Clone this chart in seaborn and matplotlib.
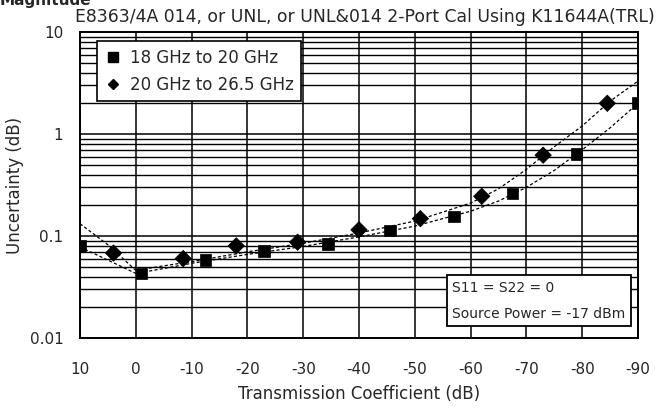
import numpy as np
import pandas as pd
import matplotlib
matplotlib.use('Agg')
import matplotlib.pyplot as plt
from matplotlib.lines import Line2D
from matplotlib.ticker import FixedLocator, NullFormatter, LogLocator
import seaborn as sns

# measured points (transmission coefficient dB -> uncertainty dB)
sq_x = [10, -1, -12.5, -23, -34.5, -45.5, -57, -67.5, -79, -90]
sq_y = [0.080, 0.043, 0.058, 0.071, 0.084, 0.113, 0.155, 0.26, 0.64, 2.0]
dm_x = [4, -8.5, -18, -29, -40, -51, -62, -73, -84.5]
dm_y = [0.068, 0.060, 0.080, 0.087, 0.115, 0.148, 0.245, 0.62, 2.0]

# dashed fit curves
fit_x = [10, 5, 0, -5, -10, -20, -30, -40, -50, -60, -65, -70, -75, -80, -85, -90]
fit_sq = [0.078, 0.058, 0.043, 0.048, 0.054, 0.066, 0.079, 0.098, 0.125, 0.175, 0.22, 0.30, 0.44, 0.70, 1.15, 2.0]
fit_dm = [0.132, 0.082, 0.046, 0.051, 0.056, 0.070, 0.085, 0.107, 0.140, 0.21, 0.29, 0.45, 0.75, 1.2, 2.1, 3.3]

labels = ['18 GHz to 20 GHz', '20 GHz to 26.5 GHz']
x_ticks = [10, 0, -10, -20, -30, -40, -50, -60, -70, -80, -90]
y_ticks = [0.01, 0.1, 1, 10]
y_ticklabels = ['0.01', '0.1', '1', '10']

pts = pd.concat([
    pd.DataFrame({'x': sq_x, 'y': sq_y, 'band': labels[0]}),
    pd.DataFrame({'x': dm_x, 'y': dm_y, 'band': labels[1]}),
])
fits = pd.concat([
    pd.DataFrame({'x': fit_x, 'y': fit_sq, 'band': labels[0]}),
    pd.DataFrame({'x': fit_x, 'y': fit_dm, 'band': labels[1]}),
])

sns.set_style('white')
plt.rcParams['font.family'] = ['DejaVu Sans']

fig = plt.figure(figsize=(6.58, 4.08), dpi=100)
ax = fig.add_axes([80 / 658, 70 / 408, 558 / 658, 306 / 408])

# dashed fits
sns.lineplot(data=fits, x='x', y='y', units='band', estimator=None, sort=False,
             color='black', lw=0.9, linestyle=(0, (2.5, 1.8)), ax=ax, legend=False)
# markers
sns.scatterplot(data=pts, x='x', y='y', style='band', markers={labels[0]: 's', labels[1]: 'D'},
                color='black', s=70, edgecolor='black', linewidth=0.5, ax=ax, legend=False, zorder=3)

ax.set_yscale('log')
ax.set_xlim(10, -90)
ax.set_ylim(0.01, 10)
ax.xaxis.set_major_locator(FixedLocator(x_ticks))
ax.set_xticklabels([str(v) for v in x_ticks])
ax.yaxis.set_major_locator(FixedLocator(y_ticks))
ax.set_yticklabels(y_ticklabels)
ax.yaxis.set_minor_locator(LogLocator(base=10, subs=np.arange(2, 10)))
ax.yaxis.set_minor_formatter(NullFormatter())

ax.grid(True, which='major', color='black', lw=1.1)
ax.grid(True, which='minor', axis='y', color='black', lw=1.0)
ax.tick_params(which='both', length=0, labelsize=11, pad=17)
ax.tick_params(axis='y', pad=12)
for sp in ax.spines.values():
    sp.set_visible(True)
    sp.set_color('black')
    sp.set_linewidth(1.4)

ax.set_xlabel('Transmission Coefficient (dB)', fontsize=12, labelpad=6)
ax.set_ylabel('Uncertainty (dB)', fontsize=12, labelpad=4)

handles = [Line2D([], [], marker='s', color='black', ls='none', markersize=6.5),
           Line2D([], [], marker='D', color='black', ls='none', markersize=5.5)]
leg = ax.legend(handles, labels, loc='upper left', bbox_to_anchor=(17 / 558, 0.97),
                fontsize=12, frameon=True, fancybox=False, framealpha=1,
                edgecolor='black', handletextpad=0.5, handlelength=1.0,
                borderpad=0.45, labelspacing=0.55, borderaxespad=0)
leg.get_frame().set_linewidth(1.2)

ax.text(0.667, 0.187, 'S11 = S22 = 0\n\nSource Power = -17 dBm', transform=ax.transAxes,
        fontsize=10, va='top', ha='left', linespacing=0.9,
        bbox=dict(boxstyle='square,pad=0.4', fc='white', ec='black', lw=1.3), zorder=5)

fig.text(75 / 658, 1 - 17 / 408, 'E8363/4A 014, or UNL, or UNL&014 2-Port Cal Using K11644A(TRL)',
         fontsize=12.4, ha='left', va='center')
fig.text(0.0, 1 - 5 / 408, 'Magnitude', fontsize=11, fontweight='bold', ha='left', va='baseline')

fig.savefig('out.png', dpi=100)
